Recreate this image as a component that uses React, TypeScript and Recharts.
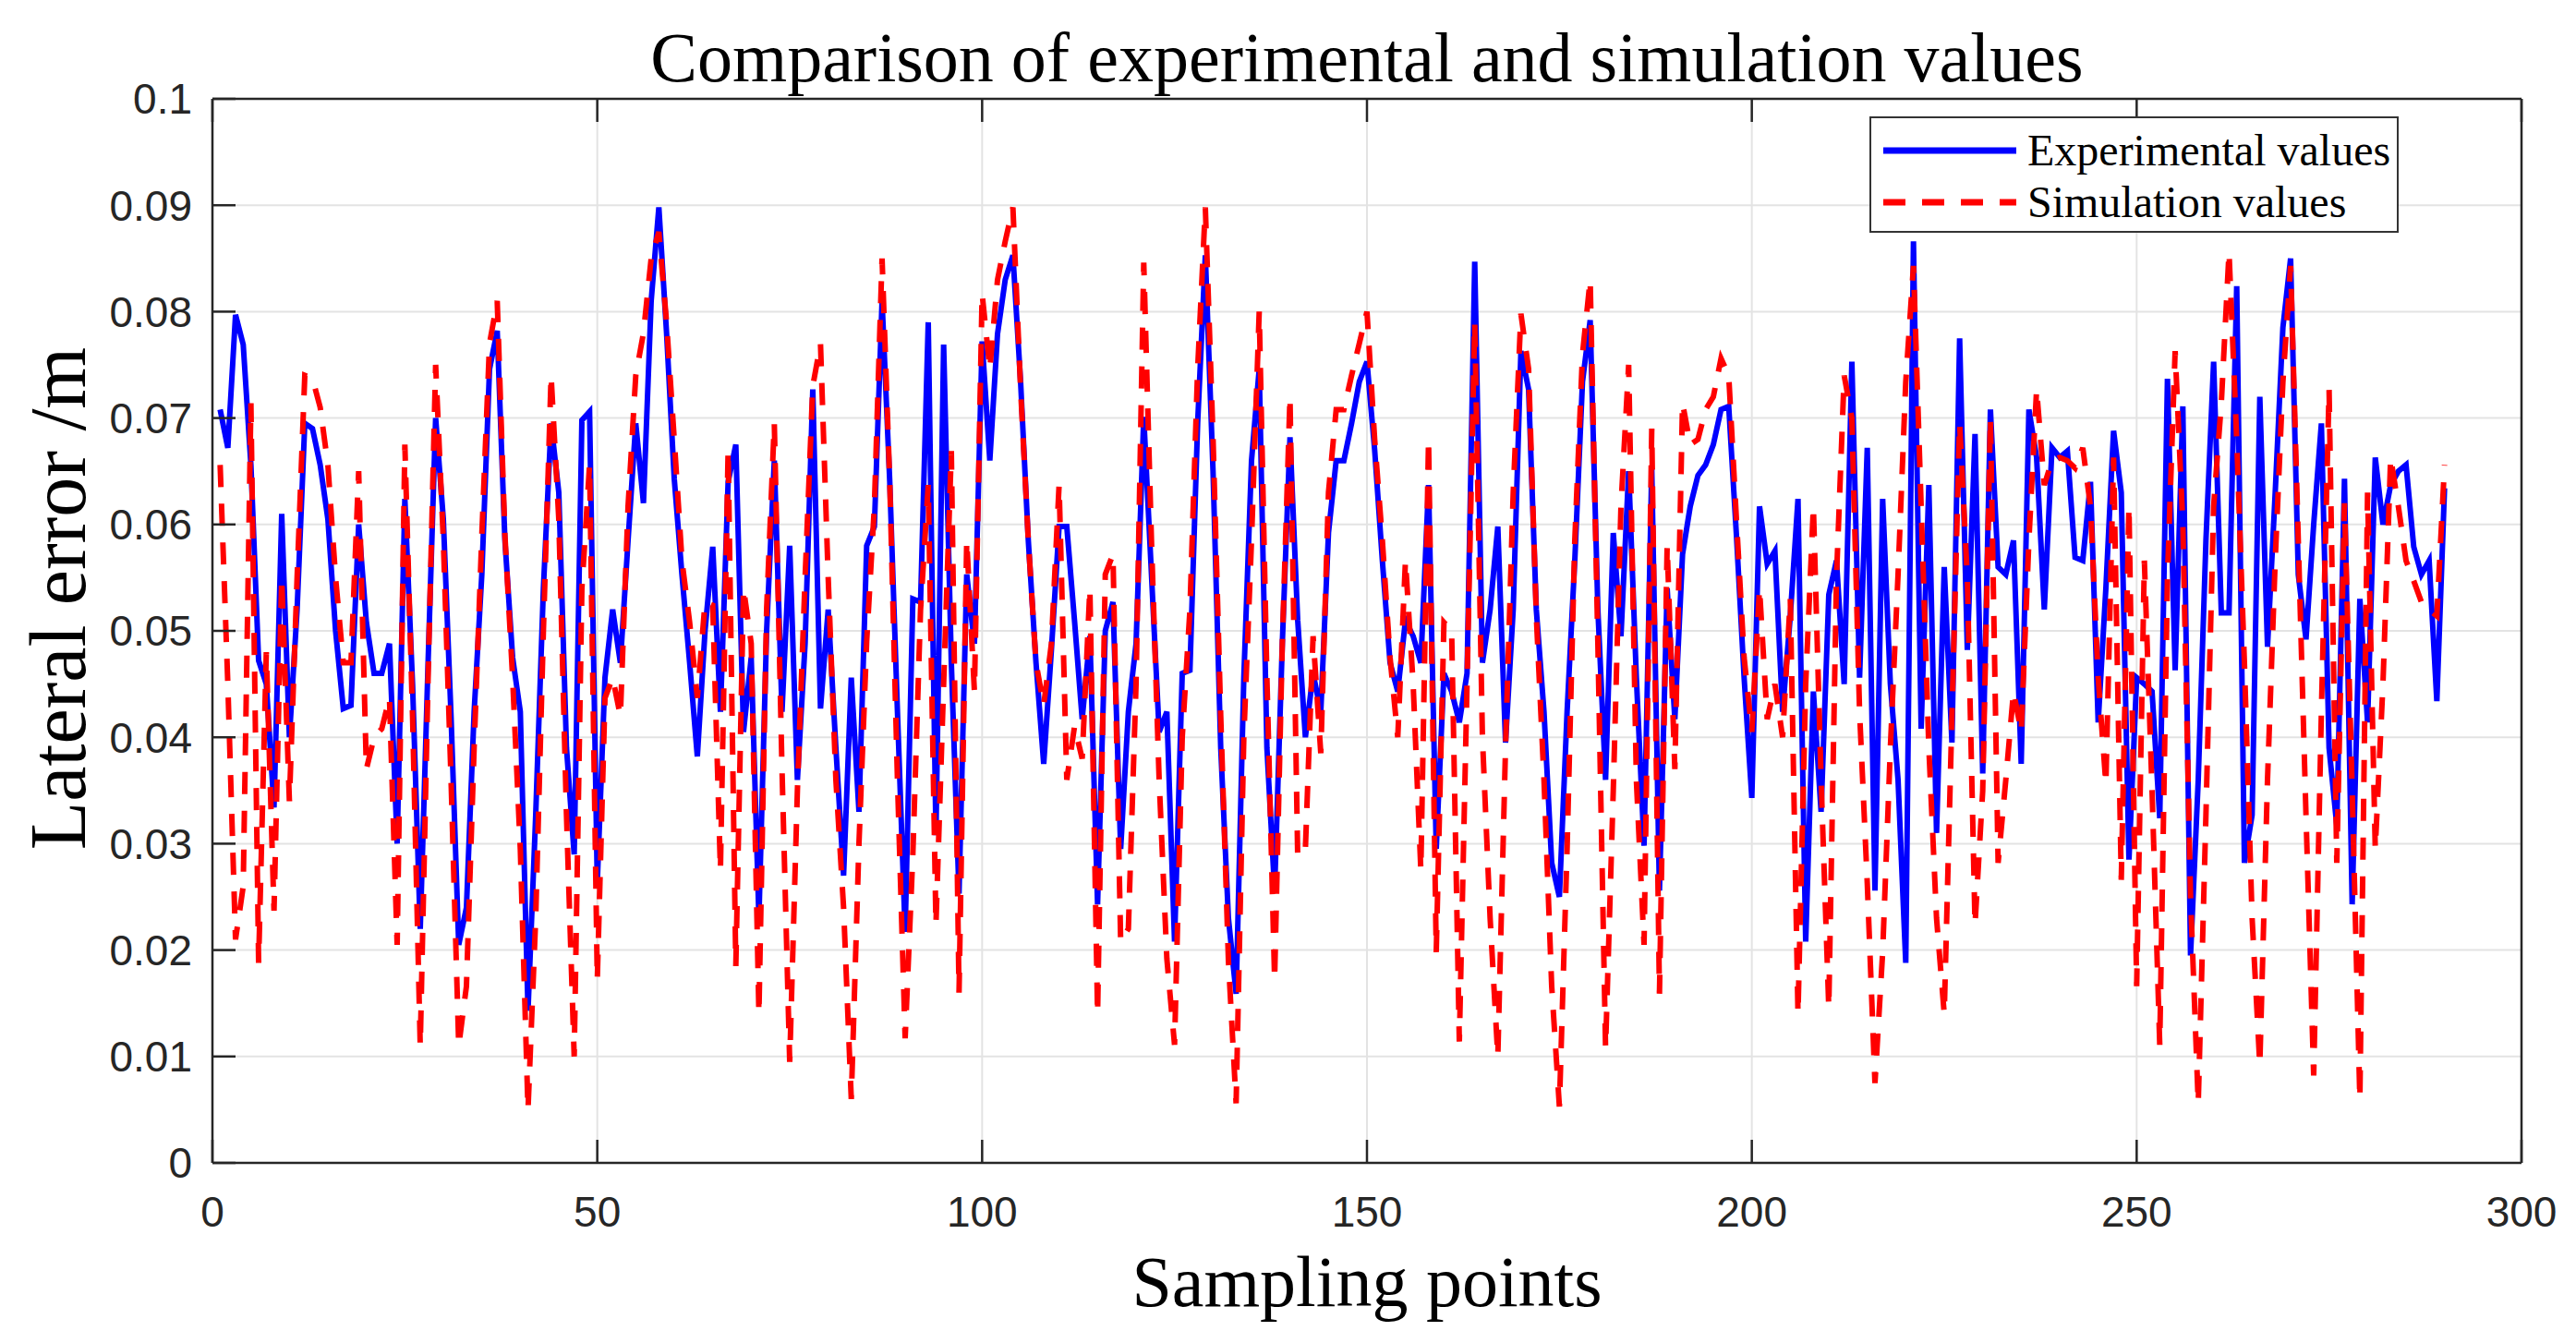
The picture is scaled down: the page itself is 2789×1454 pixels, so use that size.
import {
  LineChart,
  Line,
  XAxis,
  YAxis,
  CartesianGrid,
  Legend,
} from "recharts";

// lateral error (m) at sampling points 1..290
const EXPERIMENTAL = [
  0.0708, 0.0672, 0.0797, 0.0769, 0.0656, 0.0472, 0.045, 0.0334, 0.061, 0.040,
  0.052, 0.0695, 0.069, 0.0656, 0.0605, 0.050, 0.0427, 0.043, 0.060, 0.0508,
  0.046, 0.046, 0.0488, 0.030, 0.0624, 0.045, 0.022, 0.0466, 0.070, 0.0605,
  0.042, 0.0205, 0.024, 0.0424, 0.0553, 0.0746, 0.0782, 0.0585, 0.0475, 0.0424,
  0.0143, 0.0327, 0.054, 0.0695, 0.063, 0.039, 0.029, 0.0698, 0.0706, 0.0263,
  0.0456, 0.052, 0.047, 0.0585, 0.0695, 0.062, 0.081, 0.0898, 0.078, 0.0643,
  0.0553, 0.047, 0.0382, 0.050, 0.0579, 0.0424, 0.064, 0.0675, 0.0405, 0.0475,
  0.023, 0.050, 0.066, 0.0424, 0.058, 0.036, 0.0488, 0.0727, 0.0427, 0.052,
  0.039, 0.027, 0.0456, 0.033, 0.058, 0.0598, 0.081, 0.064, 0.0424, 0.0217,
  0.053, 0.0527, 0.079, 0.0308, 0.0769, 0.047, 0.0253, 0.0553, 0.0488, 0.0772,
  0.066, 0.0779, 0.083, 0.0853, 0.0734, 0.0585, 0.047, 0.0375, 0.0482, 0.0598,
  0.0598, 0.051, 0.0417, 0.0495, 0.0243, 0.050, 0.0527, 0.0295, 0.0424, 0.0488,
  0.0701, 0.0553, 0.0405, 0.0424, 0.0208, 0.046, 0.0463, 0.0695, 0.0853, 0.065,
  0.039, 0.023, 0.0159, 0.0456, 0.066, 0.0746, 0.039, 0.0256, 0.0488, 0.0682,
  0.051, 0.040, 0.046, 0.0424, 0.0592, 0.066, 0.066, 0.0695, 0.0734, 0.0753,
  0.067, 0.0566, 0.047, 0.0443, 0.051, 0.0495, 0.047, 0.0637, 0.0295, 0.046,
  0.0443, 0.0414, 0.046, 0.0847, 0.047, 0.052, 0.0598, 0.0395, 0.052, 0.0763,
  0.0727, 0.052, 0.0424, 0.0282, 0.025, 0.0424, 0.0566, 0.0734, 0.0792, 0.052,
  0.036, 0.0592, 0.0495, 0.065, 0.0456, 0.0298, 0.0653, 0.0256, 0.054, 0.0417,
  0.0572, 0.0617, 0.0646, 0.0656, 0.0675, 0.0708, 0.0711, 0.059, 0.0456, 0.0343,
  0.0617, 0.0563, 0.0575, 0.0424, 0.0514, 0.0624, 0.0208, 0.0443, 0.033, 0.0534,
  0.0566, 0.045, 0.0753, 0.0456, 0.0672, 0.0256, 0.0624, 0.045, 0.036, 0.0188,
  0.0866, 0.0408, 0.0637, 0.031, 0.056, 0.0395, 0.0775, 0.0482, 0.0685, 0.0366,
  0.0708, 0.056, 0.0553, 0.0585, 0.0375, 0.0708, 0.0663, 0.052, 0.0672, 0.0663,
  0.0669, 0.0569, 0.0566, 0.064, 0.0414, 0.054, 0.0688, 0.063, 0.0285, 0.0456,
  0.045, 0.0443, 0.0324, 0.0737, 0.0463, 0.0711, 0.0195, 0.036, 0.0585, 0.0753,
  0.0517, 0.0517, 0.0824, 0.0282, 0.0327, 0.072, 0.0485, 0.063, 0.0785, 0.085,
  0.0553, 0.0492, 0.060, 0.0695, 0.039, 0.0317, 0.0643, 0.0243, 0.053, 0.0414,
  0.0663, 0.060, 0.0637, 0.065, 0.0656, 0.0579, 0.0553, 0.0566, 0.0434, 0.0634,
];

const SIMULATION = [
  0.0656, 0.045, 0.021, 0.026, 0.0714, 0.0188, 0.048, 0.0237, 0.055, 0.034,
  0.055, 0.074, 0.0737, 0.071, 0.0656, 0.055, 0.047, 0.047, 0.065, 0.037,
  0.040, 0.0408, 0.0437, 0.0205, 0.0675, 0.042, 0.011, 0.045, 0.075, 0.0585,
  0.036, 0.011, 0.0166, 0.039, 0.059, 0.077, 0.081, 0.059, 0.0456, 0.0295,
  0.005, 0.023, 0.050, 0.074, 0.0605, 0.0327, 0.010, 0.054, 0.0656, 0.0172,
  0.0437, 0.0456, 0.042, 0.0617, 0.074, 0.078, 0.085, 0.0875, 0.079, 0.068,
  0.0566, 0.0508, 0.0437, 0.0527, 0.0524, 0.0275, 0.067, 0.0185, 0.054, 0.0488,
  0.014, 0.052, 0.0695, 0.037, 0.0095, 0.035, 0.055, 0.073, 0.077, 0.055,
  0.036, 0.024, 0.006, 0.030, 0.049, 0.0617, 0.085, 0.064, 0.036, 0.0117,
  0.029, 0.052, 0.0637, 0.0224, 0.045, 0.0669, 0.016, 0.0585, 0.0443, 0.0817,
  0.0746, 0.083, 0.0866, 0.0898, 0.0727, 0.0585, 0.047, 0.043, 0.0488, 0.0637,
  0.036, 0.041, 0.038, 0.054, 0.014, 0.0553, 0.0572, 0.0208, 0.022, 0.045,
  0.0846, 0.0585, 0.036, 0.0192, 0.0111, 0.040, 0.052, 0.0746, 0.0898, 0.0682,
  0.042, 0.019, 0.0056, 0.040, 0.0585, 0.080, 0.0456, 0.0172, 0.0488, 0.072,
  0.0288, 0.0295, 0.0495, 0.0385, 0.063, 0.0708, 0.0708, 0.074, 0.077, 0.080,
  0.068, 0.0585, 0.0475, 0.040, 0.0566, 0.045, 0.0275, 0.068, 0.0198, 0.0508,
  0.050, 0.0114, 0.045, 0.079, 0.040, 0.023, 0.010, 0.039, 0.063, 0.0798,
  0.0746, 0.0514, 0.036, 0.0166, 0.0053, 0.0295, 0.0585, 0.076, 0.083, 0.0488,
  0.0108, 0.035, 0.0617, 0.075, 0.036, 0.0205, 0.069, 0.0159, 0.058, 0.037,
  0.0714, 0.0675, 0.068, 0.0708, 0.072, 0.0756, 0.074, 0.0605, 0.0475, 0.0405,
  0.054, 0.0417, 0.045, 0.040, 0.053, 0.014, 0.045, 0.0617, 0.036, 0.0146,
  0.055, 0.074, 0.070, 0.0424, 0.0263, 0.0075, 0.0198, 0.039, 0.0553, 0.0734,
  0.0843, 0.0617, 0.039, 0.023, 0.014, 0.042, 0.0695, 0.055, 0.0224, 0.035,
  0.070, 0.0282, 0.036, 0.0443, 0.0405, 0.0585, 0.0727, 0.0637, 0.066, 0.0663,
  0.066, 0.0653, 0.0672, 0.0617, 0.0456, 0.0356, 0.0663, 0.0266, 0.0617, 0.0166,
  0.0566, 0.035, 0.0111, 0.055, 0.0763, 0.060, 0.025, 0.0056, 0.0327, 0.0617,
  0.0714, 0.0856, 0.068, 0.047, 0.023, 0.0092, 0.036, 0.0566, 0.0734, 0.0843,
  0.0585, 0.0327, 0.0082, 0.0424, 0.0727, 0.0282, 0.062, 0.035, 0.006, 0.063,
  0.0295, 0.045, 0.0663, 0.0617, 0.0566, 0.0547, 0.0527, 0.052, 0.0514, 0.0656,
];

const X_TICKS = [0, 50, 100, 150, 200, 250, 300];
const Y_TICKS = [0, 0.01, 0.02, 0.03, 0.04, 0.05, 0.06, 0.07, 0.08, 0.09, 0.1];

const SERIES = [
  { key: "experimental", name: "Experimental values", color: "#0000ff", dash: undefined },
  { key: "simulation", name: "Simulation values", color: "#ff0000", dash: "24 18" },
];

const data = EXPERIMENTAL.map((v, i) => ({
  point: i + 1,
  experimental: v,
  simulation: SIMULATION[i],
}));

const W = 2773;
const H = 1438;
const AXIS = "#262626";
const SERIF = '"Liberation Serif", "Times New Roman", serif';
const SANS = '"Liberation Sans", Arial, sans-serif';
const tickStyle = { fill: AXIS, fontSize: 46, fontFamily: SANS };
const fmtY = (v: number) => String(Number(v.toFixed(2)));
const blank = () => "";

function LegendBox() {
  return (
    <div
      style={{
        width: 573,
        height: 126,
        boxSizing: "border-box",
        border: "2px solid #333",
        background: "#fff",
        position: "relative",
      }}
    >
      {SERIES.map((s, i) => (
        <div
          key={s.key}
          style={{
            position: "absolute",
            left: 13,
            top: 9 + i * 56,
            height: 52,
            display: "flex",
            alignItems: "center",
          }}
        >
          <svg width={144} height={12} style={{ display: "block" }}>
            <line
              x1={0}
              x2={144}
              y1={6}
              y2={6}
              stroke={s.color}
              strokeWidth={7}
              strokeDasharray={s.dash}
            />
          </svg>
          <span
            style={{
              marginLeft: 12,
              fontFamily: SERIF,
              fontSize: 48,
              color: "#000",
              lineHeight: 1,
              whiteSpace: "nowrap",
            }}
          >
            {s.name}
          </span>
        </div>
      ))}
    </div>
  );
}

function YTitle() {
  return (
    <text
      x={84}
      y={640}
      transform="rotate(-90 84 640)"
      textAnchor="middle"
      fontFamily={SERIF}
      fontSize={86}
      fill="#000"
    >
      Lateral error /m
    </text>
  );
}

function XTitle() {
  return (
    <text x={1472} y={1406} textAnchor="middle" fontFamily={SERIF} fontSize={78} fill="#000">
      Sampling points
    </text>
  );
}

export default function App() {
  return (
    <div style={{ position: "relative", width: W, height: H, background: "#fff" }}>
      <div
        style={{
          position: "absolute",
          left: 222,
          width: 2500,
          top: 16,
          textAlign: "center",
          fontFamily: SERIF,
          fontSize: 76,
          lineHeight: 1,
          color: "#000",
          whiteSpace: "nowrap",
          zIndex: 2,
        }}
      >
        Comparison of experimental and simulation values
      </div>
      <LineChart
        width={W}
        height={H}
        data={data}
        margin={{ top: 98, right: 50, bottom: 87, left: 72 }}
      >
        <CartesianGrid stroke="#e3e3e3" strokeWidth={2} />
        <XAxis
          dataKey="point"
          type="number"
          domain={[0, 300]}
          ticks={X_TICKS}
          height={100}
          tickSize={-25}
          tickMargin={61}
          tick={tickStyle}
          stroke={AXIS}
          strokeWidth={2.5}
          label={<XTitle />}
        />
        <XAxis
          xAxisId="top"
          orientation="top"
          dataKey="point"
          type="number"
          domain={[0, 300]}
          ticks={X_TICKS}
          height={1}
          tickSize={-25}
          tickFormatter={blank}
          stroke={AXIS}
          strokeWidth={2.5}
        />
        <YAxis
          type="number"
          domain={[0, 0.1]}
          ticks={Y_TICKS}
          width={150}
          tickSize={-25}
          tickMargin={47}
          tick={tickStyle}
          tickFormatter={fmtY}
          stroke={AXIS}
          strokeWidth={2.5}
          label={<YTitle />}
        />
        <YAxis
          yAxisId="right"
          orientation="right"
          type="number"
          domain={[0, 0.1]}
          ticks={Y_TICKS}
          width={1}
          tickSize={-25}
          tickFormatter={blank}
          stroke={AXIS}
          strokeWidth={2.5}
        />
        <Legend
          layout="vertical"
          align="center"
          verticalAlign="middle"
          wrapperStyle={{ position: "absolute", left: 2016, top: 118, width: 573 }}
          content={() => <LegendBox />}
        />
        {SERIES.map((s) => (
          <Line
            key={s.key}
            type="linear"
            dataKey={s.key}
            name={s.name}
            stroke={s.color}
            strokeWidth={6}
            strokeDasharray={s.dash}
            dot={false}
            activeDot={false}
            isAnimationActive={false}
          />
        ))}
      </LineChart>
    </div>
  );
}
